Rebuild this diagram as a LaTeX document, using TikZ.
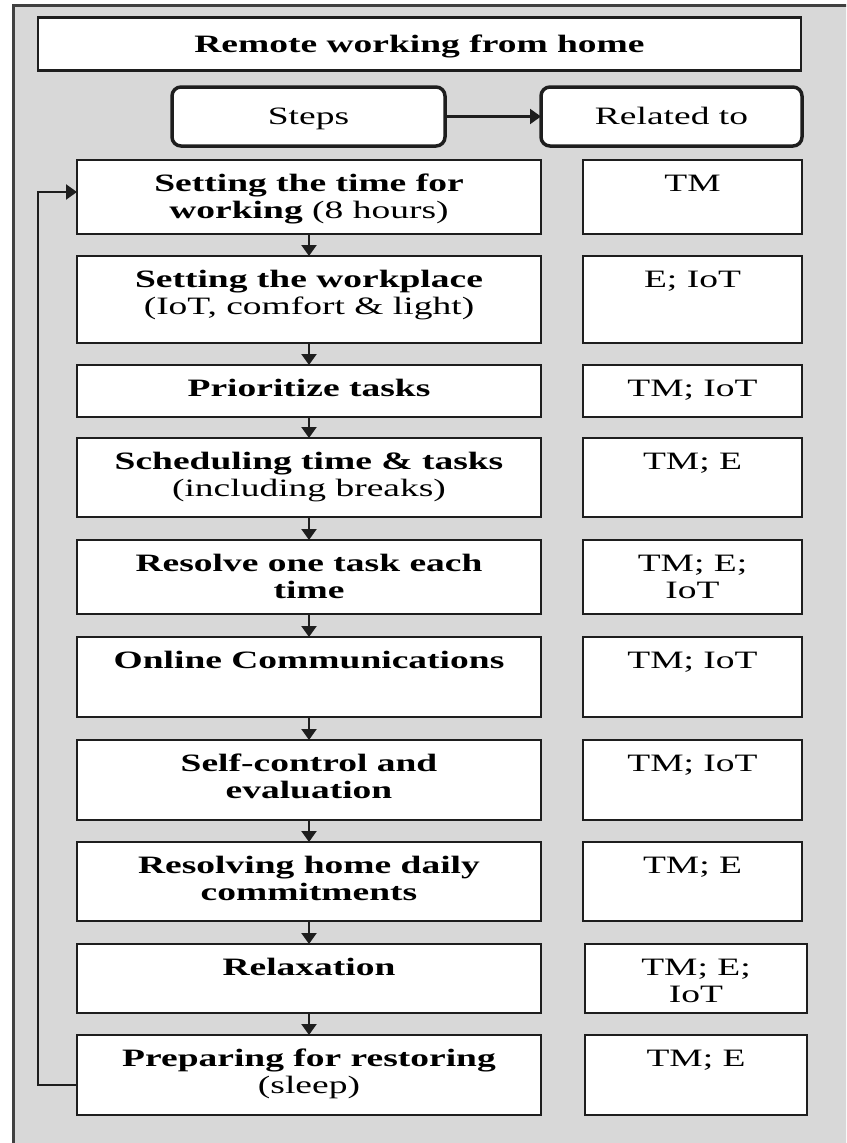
\documentclass[tikz,border=0pt]{standalone}
\usepackage{fontspec}
\setmainfont{Liberation Serif}[FakeStretch=1.5]
\usetikzlibrary{arrows.meta}
\definecolor{bg}{RGB}{216,216,216}
\definecolor{ln}{RGB}{30,30,30}
\begin{document}
\begin{tikzpicture}[x=1pt,y=-1pt,
  box/.style={draw=ln, line width=2.2pt, fill=white, inner sep=0pt, outer sep=0pt},
  rbox/.style={box, rounded corners=9pt, line width=3.5pt},
  txt/.style={anchor=north, align=center, inner sep=0pt, font=\fontsize{25}{26.5}\selectfont\bfseries},
  rtxt/.style={anchor=north, align=center, inner sep=0pt, font=\fontsize{25}{26.5}\selectfont},
  arr/.style={draw=ln, line width=2.2pt, -{Triangle[width=15pt,length=11pt]}}]
\fill[white] (0,0) rectangle (846,1143);
\useasboundingbox (0,0) rectangle (846,1143);
\clip (0,0) rectangle (846,1143);
\draw[fill=bg, draw=ln!85, line width=3pt] (13,5) rectangle (900,1200);

% title and headers
\node[box, minimum width=763pt, minimum height=53pt, text height=16.5pt, text depth=0pt, font=\fontsize{25}{26.5}\selectfont\bfseries] (title) at (419.5,44) {Remote working from home};
\node[rbox, minimum width=273pt, minimum height=59pt, text height=16.5pt, text depth=0pt, font=\fontsize{25}{26.5}\selectfont] (steps) at (308.5,116.5) {Steps};
\node[rbox, minimum width=261pt, minimum height=59pt, text height=16.5pt, text depth=0pt, font=\fontsize{25}{26.5}\selectfont] (rel) at (671.5,116.5) {Related to};
\draw[arr] (steps) -- (rel);

% step boxes
\node[box, minimum width=464pt, minimum height=74pt] (s1) at (309,197) {};
\node[box, minimum width=464pt, minimum height=87pt] (s2) at (309,299.5) {};
\node[box, minimum width=464pt, minimum height=52pt] (s3) at (309,391) {};
\node[box, minimum width=464pt, minimum height=79pt] (s4) at (309,477.5) {};
\node[box, minimum width=464pt, minimum height=74pt] (s5) at (309,577) {};
\node[box, minimum width=464pt, minimum height=80pt] (s6) at (309,677) {};
\node[box, minimum width=464pt, minimum height=80pt] (s7) at (309,780) {};
\node[box, minimum width=464pt, minimum height=79pt] (s8) at (309,881.5) {};
\node[box, minimum width=464pt, minimum height=69pt] (s9) at (309,978.5) {};
\node[box, minimum width=464pt, minimum height=80pt] (s10) at (309,1075) {};

\node[txt] (t1) at ([yshift=-13pt]s1.north) {\strut Setting the time for\\working {\mdseries (8 hours)}};
\node[txt] (t2) at ([yshift=-13pt]s2.north) {\strut Setting the workplace\\{\mdseries (IoT, comfort \& light)}};
\node[txt] (t3) at ([yshift=-13pt]s3.north) {\strut Prioritize tasks};
\node[txt] (t4) at ([yshift=-13pt]s4.north) {\strut Scheduling time \& tasks\\{\mdseries (including breaks)}};
\node[txt] (t5) at ([yshift=-13pt]s5.north) {\strut Resolve one task each\\time};
\node[txt] (t6) at ([yshift=-13pt]s6.north) {\strut Online Communications};
\node[txt] (t7) at ([yshift=-13pt]s7.north) {\strut Self-control and\\evaluation};
\node[txt] (t8) at ([yshift=-13pt]s8.north) {\strut Resolving home daily\\commitments};
\node[txt] (t9) at ([yshift=-13pt]s9.north) {\strut Relaxation};
\node[txt] (t10) at ([yshift=-13pt]s10.north) {\strut Preparing for restoring\\{\mdseries (sleep)}};

% related boxes
\node[box, minimum width=219pt, minimum height=74pt] (r1) at (692.5,197) {};
\node[box, minimum width=219pt, minimum height=87pt] (r2) at (692.5,299.5) {};
\node[box, minimum width=219pt, minimum height=52pt] (r3) at (692.5,391) {};
\node[box, minimum width=219pt, minimum height=79pt] (r4) at (692.5,477.5) {};
\node[box, minimum width=219pt, minimum height=74pt] (r5) at (692.5,577) {};
\node[box, minimum width=219pt, minimum height=80pt] (r6) at (692.5,677) {};
\node[box, minimum width=219pt, minimum height=80pt] (r7) at (692.5,780) {};
\node[box, minimum width=219pt, minimum height=79pt] (r8) at (692.5,881.5) {};
\node[box, minimum width=222pt, minimum height=69pt] (r9) at (696,978.5) {};
\node[box, minimum width=222pt, minimum height=80pt] (r10) at (696,1075) {};

\node[rtxt] (u1) at ([yshift=-13pt]r1.north) {\strut TM};
\node[rtxt] (u2) at ([yshift=-13pt]r2.north) {\strut E; IoT};
\node[rtxt] (u3) at ([yshift=-13pt]r3.north) {\strut TM; IoT};
\node[rtxt] (u4) at ([yshift=-13pt]r4.north) {\strut TM; E};
\node[rtxt] (u5) at ([yshift=-13pt]r5.north) {\strut TM; E;\\IoT};
\node[rtxt] (u6) at ([yshift=-13pt]r6.north) {\strut TM; IoT};
\node[rtxt] (u7) at ([yshift=-13pt]r7.north) {\strut TM; IoT};
\node[rtxt] (u8) at ([yshift=-13pt]r8.north) {\strut TM; E};
\node[rtxt] (u9) at ([yshift=-13pt]r9.north) {\strut TM; E;\\IoT};
\node[rtxt] (u10) at ([yshift=-13pt]r10.north) {\strut TM; E};

% arrows between steps
\foreach \a/\b in {s1/s2,s2/s3,s3/s4,s4/s5,s5/s6,s6/s7,s7/s8,s8/s9,s9/s10}
  \draw[arr] (\a) -- (\b);

% feedback loop
\draw[arr] ([yshift=-10pt]s10.west) -- ++(-39pt,0) |- ([yshift=5pt]s1.west);
\end{tikzpicture}
\end{document}
